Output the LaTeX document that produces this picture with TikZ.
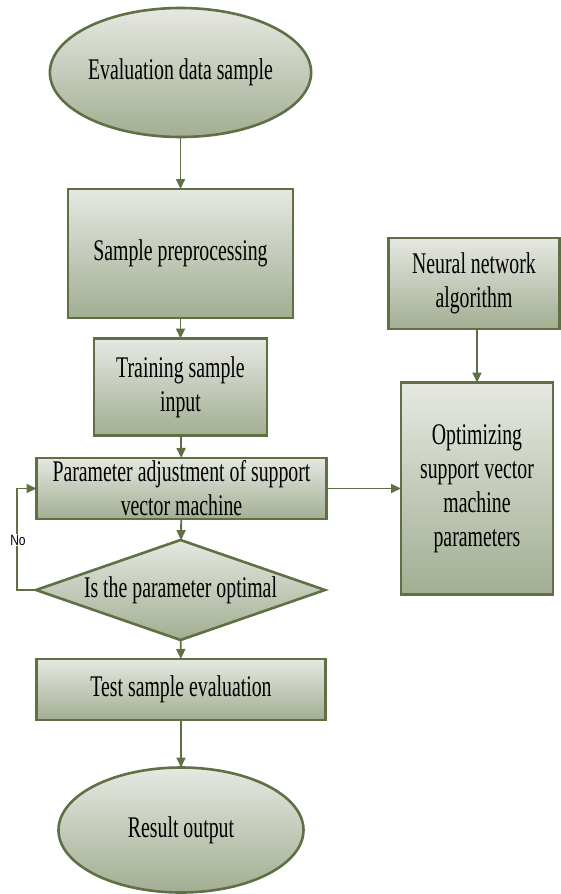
\documentclass[tikz,border=0pt]{standalone}
\usepackage{fontspec}
\setmainfont{Liberation Serif}[FakeStretch=0.66]
\newfontfamily\labelfont{Liberation Sans}[FakeStretch=0.8]
\usetikzlibrary{shapes.geometric,arrows.meta}
\definecolor{edge}{RGB}{95,112,68}
\definecolor{topc}{RGB}{230,232,226}
\definecolor{botc}{RGB}{162,174,146}
\begin{document}
\begin{tikzpicture}[x=1pt,y=-1pt,
  base/.style={draw=edge, line width=2.6pt, top color=topc, bottom color=botc,
    inner sep=0pt, outer sep=0pt, align=center,
    font=\fontsize{30}{34}\selectfont},
  boxnode/.style={base, rectangle},
  ovalnode/.style={base, ellipse},
  dianode/.style={base, diamond},
  txt/.style={inner sep=0pt, align=center, font=\fontsize{30}{34}\selectfont},
  arr/.style={draw=edge, line width=1.8pt, -{Triangle[length=10pt,width=9pt]}}
]
\useasboundingbox (0,0) rectangle (561,894);

\node[ovalnode, minimum width=243, minimum height=129] (eval) at (180.5,72.5) {Evaluation data sample};
\node[boxnode, minimum width=225, minimum height=129] (pre) at (180.5,253.5) {Sample preprocessing};
\node[boxnode, minimum width=173, minimum height=97] (train) at (180.5,387) {Training sample\\input};
\node[boxnode, minimum width=290, minimum height=61] (param) at (181.5,488.5) {Parameter adjustment of support\\vector machine};
\node[dianode, minimum width=289, minimum height=100] (dia) at (180.5,590) {};
\node[txt] (diatxt) at (dia.center) {Is the parameter optimal};
\node[boxnode, minimum width=289, minimum height=61] (test) at (181,689.5) {Test sample evaluation};
\node[ovalnode, minimum width=245, minimum height=125] (res) at (181,830) {Result output};
\node[boxnode, minimum width=171, minimum height=91] (nn) at (474,283.5) {Neural network\\algorithm};
\node[boxnode, minimum width=152, minimum height=212] (opt) at (477,488.5) {Optimizing\\support vector\\machine\\parameters};

\coordinate (loopA) at (17,590);
\coordinate (loopB) at (17,488.5);

\draw[arr] (eval) -- (pre);
\draw[arr] (pre) -- (train);
\draw[arr] (train) -- (param);
\draw[arr] (param) -- (dia);
\draw[arr] (dia) -- (test);
\draw[arr] (test) -- (res);
\draw[arr] (nn.south -| opt.north) -- (opt.north);
\draw[arr] (param.east) -- (opt.west |- param.east);
\draw[arr] (dia.west) -- (loopA) -- (loopB) -- (param.west);
\node[fill=white, inner sep=1pt, font=\labelfont\fontsize{15}{15}\selectfont] (no) at (18,540) {No};
\end{tikzpicture}
\end{document}
